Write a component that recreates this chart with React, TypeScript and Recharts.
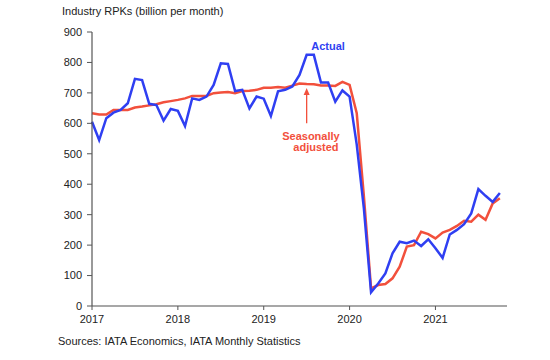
import React from "react";
import { LineChart, Line, XAxis, YAxis, ReferenceDot, ReferenceLine } from "recharts";

const years = ["2017", "2018", "2019", "2020", "2021"];
const yTicks = [0, 100, 200, 300, 400, 500, 600, 700, 800, 900];

// Monthly values, Jan 2017 .. Oct 2021 (billion RPKs)
const actual = [
  605, 545, 617, 635, 644, 666, 746, 742, 664, 660, 609, 647,
  641, 591, 682, 677, 688, 726, 797, 795, 706, 710, 649, 688,
  681, 624, 705, 710, 721, 759, 825, 825, 734, 734, 671, 708,
  688, 530, 320, 45, 74, 107, 173, 211, 206, 215, 197, 219,
  190, 158, 235, 250, 269, 304, 384, 362, 342, 371,
];
const seasonallyAdjusted = [
  633, 629, 629, 644, 644, 644, 652, 655, 659, 663, 669, 673,
  677, 682, 690, 690, 690, 699, 701, 703, 699, 706, 707, 710,
  717, 717, 719, 717, 724, 731, 729, 728, 724, 724, 723, 736,
  726, 633, 360, 58, 69, 72, 91, 129, 195, 200, 244, 236,
  222, 241, 250, 263, 280, 277, 300, 283, 337, 354,
];

const data = actual.map((a, i) => ({ m: i, actual: a, sa: seasonallyAdjusted[i] }));

const BLUE = "#2f3ff2";
const RED = "#f2503c";
const FONT = "'Liberation Sans', Arial, sans-serif";

const textShape = (label: string, color: string) => (props: any) => (
  <text
    x={props.cx}
    y={props.cy}
    textAnchor="middle"
    dominantBaseline="central"
    fill={color}
    fontWeight="bold"
    fontSize={11}
    fontFamily={FONT}
  >
    {label}
  </text>
);

const arrowHead = (props: any) => (
  <polygon
    points={`${props.cx},${props.cy} ${props.cx - 3},${props.cy + 7} ${props.cx + 3},${props.cy + 7}`}
    fill={RED}
  />
);

export default function App() {
  return (
    <div style={{ position: "absolute", left: 0, top: 0, width: 550, height: 360, background: "#fff" }}>
      <LineChart
        width={550}
        height={360}
        data={data}
        margin={{ top: 32, right: 43, bottom: 24, left: 0 }}
      >
        <XAxis
          type="number"
          dataKey="m"
          domain={[0, 58]}
          ticks={[0, 12, 24, 36, 48]}
          tickFormatter={(v: number) => years[v / 12]}
          height={30}
          axisLine={{ stroke: "#8a8a8a", strokeWidth: 1.5 }}
          tickLine={{ stroke: "#555" }}
          tickSize={4}
          tickMargin={5}
          tick={{ fill: "#222", fontSize: 11, fontFamily: FONT }}
        />
        <YAxis
          type="number"
          domain={[0, 900]}
          ticks={yTicks}
          width={92}
          axisLine={{ stroke: "#555", strokeWidth: 1.2 }}
          tickLine={{ stroke: "#555" }}
          tickSize={5}
          tickMargin={5}
          tick={{ fill: "#222", fontSize: 11, fontFamily: FONT }}
        />
        <Line
          type="linear"
          dataKey="sa"
          stroke={RED}
          strokeWidth={2.5}
          dot={false}
          isAnimationActive={false}
        />
        <Line
          type="linear"
          dataKey="actual"
          stroke={BLUE}
          strokeWidth={2.5}
          dot={false}
          isAnimationActive={false}
        />
        <ReferenceLine
          segment={[{ x: 30, y: 600 }, { x: 30, y: 705 }]}
          stroke={RED}
          strokeWidth={1.3}
        />
        <ReferenceDot x={30} y={716} r={0} shape={arrowHead} />
        <ReferenceDot x={33} y={855} r={0} shape={textShape("Actual", BLUE)} />
        <ReferenceDot x={30.6} y={558} r={0} shape={textShape("Seasonally", RED)} />
        <ReferenceDot x={31.3} y={521} r={0} shape={textShape("adjusted", RED)} />
      </LineChart>
      <svg
        width={550}
        height={360}
        style={{ position: "absolute", left: 0, top: 0, pointerEvents: "none" }}
      >
        <text x={62} y={15} fontSize={11} fill="#222" fontFamily={FONT}>
          Industry RPKs (billion per month)
        </text>
        <text x={58} y={345} fontSize={11} fill="#222" fontFamily={FONT}>
          Sources: IATA Economics, IATA Monthly Statistics
        </text>
      </svg>
    </div>
  );
}
